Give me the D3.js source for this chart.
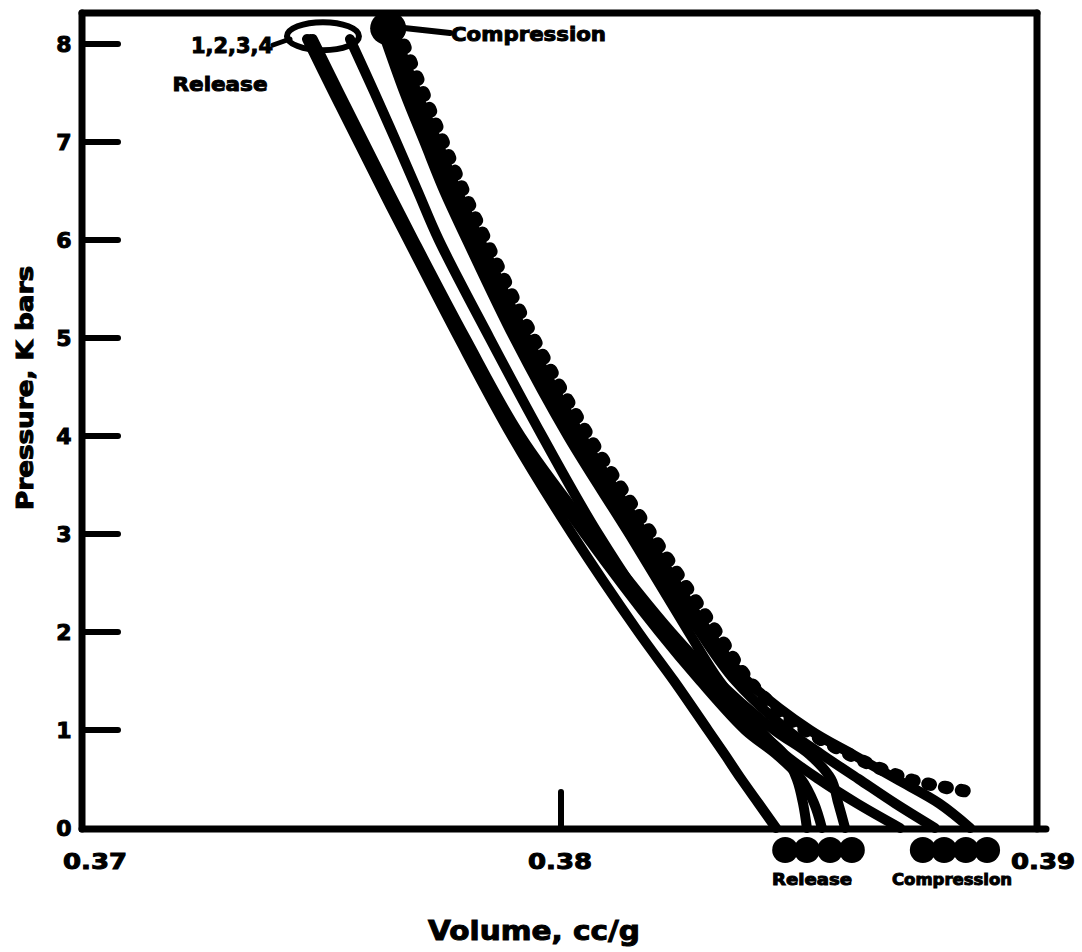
<html>
<head>
<script src="https://d3js.org/d3.v7.min.js"></script>
<style>
body { margin: 0; background: #fff; }
text { font-family: "DejaVu Sans", sans-serif; font-weight: bold; fill: #000; stroke: #000; stroke-width: 1px; }
</style>
</head>
<body>
<div id="chart"></div>
<script>

const ink = "#050505";

// axis ticks
const xTicks = [0.37, 0.38, 0.39];
const xTickLabels = ["0.37", "0.38", "0.39"];
const yTicks = [0, 1, 2, 3, 4, 5, 6, 7, 8];

// release runs 1-4 (pressure in K bars, volume in cc/g)
const releaseP = [8.05, 7.5, 7, 6.5, 6, 5, 4, 3, 2, 1.5, 1, 0.75, 0.5, 0.25, 0];
const release1 = [0.37470, 0.37525, 0.37576, 0.37627, 0.37679, 0.37784, 0.37894, 0.38019, 0.38156, 0.38230, 0.38300, 0.38335, 0.38369, 0.38405, 0.38441];
const release2 = [0.37559, 0.37610, 0.37655, 0.37699, 0.37743, 0.37848, 0.37957, 0.38073, 0.38210, 0.38296, 0.38401, 0.38458, 0.38484, 0.38497, 0.38505];
const release3 = [0.37477, 0.37531, 0.37582, 0.37633, 0.37685, 0.37791, 0.37903, 0.38045, 0.38199, 0.38284, 0.38377, 0.38442, 0.38493, 0.38520, 0.38536];
const release4 = [0.37482, 0.37537, 0.37588, 0.37639, 0.37691, 0.37798, 0.37912, 0.38061, 0.38224, 0.38320, 0.38437, 0.38510, 0.38555, 0.38570, 0.38584];

// compression runs
const compP = [8.15, 7.5, 7, 6.5, 6, 5, 4, 3, 2, 1.5, 1, 0.75, 0.5, 0.25, 0];
const comp1 = [0.37625, 0.37672, 0.37713, 0.37754, 0.37801, 0.37899, 0.38010, 0.38137, 0.38260, 0.38324, 0.38408, 0.38459, 0.38529, 0.38609, 0.38698];
const comp2 = [0.37638, 0.37686, 0.37727, 0.37769, 0.37815, 0.37913, 0.38025, 0.38153, 0.38283, 0.38357, 0.38465, 0.38536, 0.38612, 0.38688, 0.38770];
const comp3 = [0.37648, 0.37698, 0.37740, 0.37781, 0.37828, 0.37925, 0.38038, 0.38169, 0.38302, 0.38382, 0.38511, 0.38600, 0.38690, 0.38779, 0.38843];
// dotted compression run
const comp4P = [8.15, 7.5, 7, 6.5, 6, 5, 4, 3, 2, 1.5, 1.2, 1.0, 0.8, 0.65, 0.5, 0.45, 0.36];
const comp4 = [0.37658, 0.37711, 0.37752, 0.37794, 0.37840, 0.37939, 0.38053, 0.38183, 0.38318, 0.38386, 0.38446, 0.38501, 0.38573, 0.38636, 0.38714, 0.38755, 0.38853];

// run number markers under the axis
const releaseMarks = [0.38460, 0.38505, 0.38553, 0.38598];
const compMarks = [0.38745, 0.38789, 0.38834, 0.38878];

var svg = d3.select("#chart").append("svg")
            .attr("width", 1082)
            .attr("height", 952)
            .style("background", "#fff");

var x = d3.scaleLinear().domain([0.37, 0.39]).range([80, 1046]);
var y = d3.scaleLinear().domain([0, 8]).range([828, 44]);

// soft edges like the scan
var defs = svg.append("defs");
defs.append("filter").attr("id", "soft")
    .append("feGaussianBlur").attr("stdDeviation", 0.7);

var plot = svg.append("g").attr("filter", "url(#soft)");

var frame = plot.append("g")
               .attr("stroke", ink)
               .attr("stroke-width", 7)
               .attr("stroke-linecap", "round")
               .attr("fill", "none");

// frame
frame.append("line").attr("x1", x(0.37) + 2).attr("y1", 13).attr("x2", x(0.37) + 2).attr("y2", y(0) + 1);
frame.append("line").attr("x1", x(0.37) + 2).attr("y1", 13).attr("x2", 1037).attr("y2", 13);
frame.append("line").attr("x1", 1037).attr("y1", 13).attr("x2", 1037).attr("y2", y(0) + 1);
frame.append("line").attr("x1", x(0.37) + 2).attr("y1", y(0) + 1).attr("x2", x(0.39)).attr("y2", y(0) + 1);

// y ticks on the inside
frame.selectAll(".ytick")
     .data(yTicks.filter(d => d > 0))
     .enter()
     .append("line")
     .attr("x1", x(0.37) + 2)
     .attr("x2", 118)
     .attr("y1", d => y(d))
     .attr("y2", d => y(d))
     .attr("stroke-width", 6);

// 0.38 tick
frame.append("line")
     .attr("x1", x(0.38) - 2).attr("x2", x(0.38) - 2)
     .attr("y1", 792).attr("y2", y(0))
     .attr("stroke-width", 6);

svg.selectAll(".ylab")
   .data(yTicks)
   .enter()
   .append("text")
   .attr("x", 64)
   .attr("y", d => y(d) + 8)
   .attr("text-anchor", "middle")
   .attr("font-size", "22px")
   .text(d => d);

svg.selectAll(".xlab")
   .data(xTicks)
   .enter()
   .append("text")
   .attr("x", (d, i) => i == 0 ? x(d) + 15 : x(d) - 3)
   .attr("y", 869)
   .attr("text-anchor", "middle")
   .attr("font-size", "22px")
   .attr("textLength", 64)
   .attr("lengthAdjust", "spacingAndGlyphs")
   .text((d, i) => xTickLabels[i]);

svg.append("text")
   .attr("transform", "translate(33,388) rotate(-90)")
   .attr("text-anchor", "middle")
   .attr("font-size", "23px")
   .attr("textLength", 244)
   .attr("lengthAdjust", "spacingAndGlyphs")
   .text("Pressure, K bars");

svg.append("text")
   .attr("x", 534)
   .attr("y", 940)
   .attr("text-anchor", "middle")
   .attr("font-size", "27px")
   .attr("textLength", 212)
   .attr("lengthAdjust", "spacingAndGlyphs")
   .text("Volume, cc/g");

// curves
var line = d3.line()
             .x(d => x(d[0]))
             .y(d => y(d[1]))
             .curve(d3.curveCatmullRom.alpha(0.5));

function pts(vols, ps) { return vols.map((v, i) => [v, ps[i]]); }

var solid = [pts(release1, releaseP), pts(release2, releaseP), pts(release3, releaseP), pts(release4, releaseP),
             pts(comp1, compP), pts(comp2, compP), pts(comp3, compP)];

plot.selectAll(".run")
   .data(solid)
   .enter()
   .append("path")
   .attr("d", line)
   .attr("fill", "none")
   .attr("stroke", ink)
   .attr("stroke-width", 10)
   .attr("stroke-linecap", "round")
   .attr("stroke-linejoin", "round");

plot.append("path")
   .attr("d", line(pts(comp4, comp4P)))
   .attr("fill", "none")
   .attr("stroke", ink)
   .attr("stroke-width", 13)
   .attr("stroke-linecap", "round")
   .attr("stroke-dasharray", "3 14");

// blob at top of compression runs + label
plot.append("ellipse")
   .attr("cx", x(comp2[0]))
   .attr("cy", y(compP[0]) - 1)
   .attr("rx", 18)
   .attr("ry", 17)
   .attr("fill", ink);

frame.append("line").attr("x1", x(comp2[0]) + 16).attr("y1", 28).attr("x2", 450).attr("y2", 33).attr("stroke-width", 6);

svg.append("text")
   .attr("x", 451).attr("y", 41)
   .attr("font-size", "20px")
   .attr("textLength", 155)
   .attr("lengthAdjust", "spacingAndGlyphs")
   .text("Compression");

// callout round the release tops
plot.append("ellipse")
   .attr("cx", x(0.37503))
   .attr("cy", y(8.08))
   .attr("rx", 36)
   .attr("ry", 14)
   .attr("fill", "none")
   .attr("stroke", ink)
   .attr("stroke-width", 6);

frame.append("line").attr("x1", 273).attr("y1", 45).attr("x2", 290).attr("y2", 39).attr("stroke-width", 5);

svg.append("text")
   .attr("x", 232).attr("y", 53)
   .attr("text-anchor", "middle")
   .attr("font-size", "21px")
   .attr("textLength", 82)
   .attr("lengthAdjust", "spacingAndGlyphs")
   .text("1,2,3,4");

svg.append("text")
   .attr("x", 220).attr("y", 91)
   .attr("text-anchor", "middle")
   .attr("font-size", "20px")
   .attr("textLength", 95)
   .attr("lengthAdjust", "spacingAndGlyphs")
   .text("Release");

// run markers under the axis
plot.selectAll(".mark")
   .data(releaseMarks.concat(compMarks))
   .enter()
   .append("circle")
   .attr("cx", d => x(d))
   .attr("cy", 850)
   .attr("r", 13)
   .attr("fill", ink);

svg.append("text")
   .attr("x", 812).attr("y", 885)
   .attr("text-anchor", "middle")
   .attr("font-size", "16px")
   .attr("textLength", 80)
   .attr("lengthAdjust", "spacingAndGlyphs")
   .text("Release");

svg.append("text")
   .attr("x", 952).attr("y", 885)
   .attr("text-anchor", "middle")
   .attr("font-size", "16px")
   .attr("textLength", 120)
   .attr("lengthAdjust", "spacingAndGlyphs")
   .text("Compression");

</script>
</body>
</html>
